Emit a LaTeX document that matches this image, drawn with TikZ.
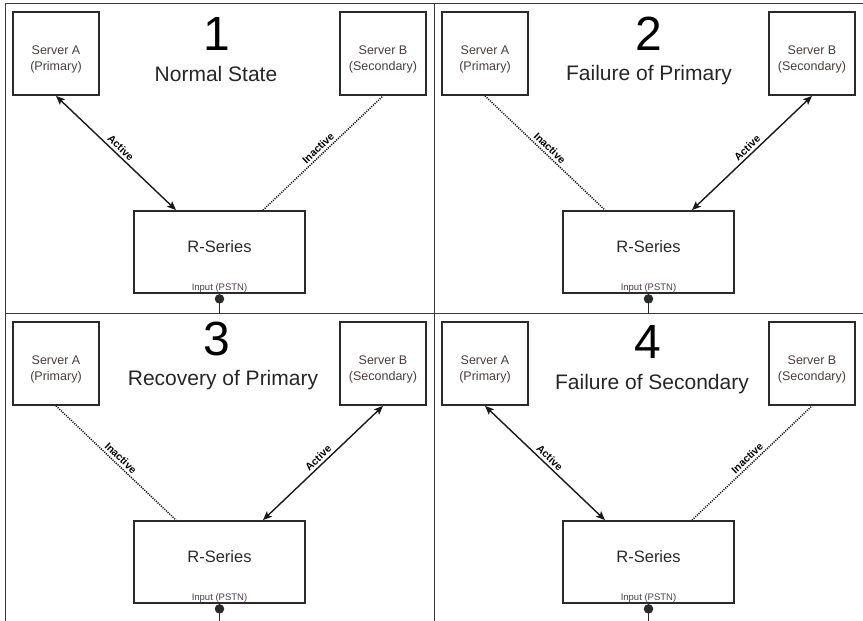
\documentclass[tikz,border=0pt]{standalone}
\usepackage{fontspec}
\setmainfont{Liberation Sans}
\usepackage{tikz}
\usepackage{xcolor}
\usetikzlibrary{arrows.meta}
\definecolor{boxcol}{HTML}{2A2A2A}
\definecolor{servercol}{HTML}{4A3C3C}
\definecolor{inputcol}{HTML}{4E3A55}
\definecolor{framecol}{HTML}{3A3A3A}

\begin{document}
\begin{tikzpicture}[x=1pt,y=-1pt]
\tikzstyle{every node}+=[inner sep=0pt]
\tikzstyle{server}=[draw=boxcol, line width=1.8pt, minimum width=86pt, minimum height=83pt]
\tikzstyle{rseries}=[draw=boxcol, line width=1.8pt, minimum width=171pt, minimum height=82pt]
\tikzstyle{servertext}=[text=servercol, align=center, font=\fontsize{12.5}{15.5}\selectfont, yshift=-6pt]
\tikzstyle{rtext}=[text=boxcol, font=\fontsize{16.5}{18}\selectfont, yshift=5pt]
\tikzstyle{inputtext}=[text=inputcol, font=\fontsize{9.5}{11}\selectfont, anchor=base, yshift=3pt]
\tikzstyle{numtext}=[text=black, font=\fontsize{48}{50}\selectfont, anchor=base]
\tikzstyle{titletext}=[text=black!85, font=\fontsize{21}{24}\selectfont, anchor=base]
\tikzstyle{activelink}=[{Stealth[length=9pt,width=7.5pt,inset=2pt]}-{Stealth[length=9pt,width=7.5pt,inset=2pt]}, line width=1.4pt, draw=black!90]
\tikzstyle{inactivelink}=[line width=1.5pt, dash pattern=on 1.1pt off 1.2pt, draw=black!90]
\tikzstyle{linklabel}=[font=\fontsize{10.5}{12}\selectfont\bfseries, sloped, above=2.5pt, pos=0.5]
\tikzstyle{feed}=[line width=1.4pt, draw=boxcol, fill=boxcol]
\tikzstyle{frame}=[line width=1pt, draw=framecol]
\useasboundingbox (0,0) rectangle (863,621);
\draw[frame] (5,3) -- (863,3);
\draw[frame] (5,3) -- (5,621);
\draw[frame] (434,3) -- (434,621);
\draw[frame] (5,313) -- (863,313);

\node[server, label={[servertext]center:Server A\\(Primary)}] (A1) at (56,53.5) {};
\node[server, label={[servertext]center:Server B\\(Secondary)}] (B1) at (383,53.5) {};
\node[rseries, label={[rtext]center:R-Series}, label={[inputtext]south:Input (PSTN)}] (R1) at (219.5,252) {};
\node[numtext] (n1) at (217,50) {1};
\node[titletext] (t1) at (216,81) {Normal State};
\draw[activelink] (A1.south) -- node[linklabel] {Active} ([xshift=-43.5pt]R1.north);
\draw[inactivelink] ([xshift=43.5pt]R1.north) -- node[linklabel] {Inactive} (B1.south);
\draw[feed] (R1.south) -- ++(0,20);
\fill[feed] ([yshift=-5pt]R1.south) circle (4pt);

\node[server, label={[servertext]center:Server A\\(Primary)}] (A2) at (485,53.5) {};
\node[server, label={[servertext]center:Server B\\(Secondary)}] (B2) at (812,53.5) {};
\node[rseries, label={[rtext]center:R-Series}, label={[inputtext]south:Input (PSTN)}] (R2) at (648.5,252) {};
\node[numtext] (n2) at (649,50) {2};
\node[titletext] (t2) at (649,80) {Failure of Primary};
\draw[inactivelink] (A2.south) -- node[linklabel] {Inactive} ([xshift=-43.5pt]R2.north);
\draw[activelink] ([xshift=43.5pt]R2.north) -- node[linklabel] {Active} (B2.south);
\draw[feed] (R2.south) -- ++(0,20);
\fill[feed] ([yshift=-5pt]R2.south) circle (4pt);

\node[server, label={[servertext]center:Server A\\(Primary)}] (A3) at (56,363.5) {};
\node[server, label={[servertext]center:Server B\\(Secondary)}] (B3) at (383,363.5) {};
\node[rseries, label={[rtext]center:R-Series}, label={[inputtext]south:Input (PSTN)}] (R3) at (219.5,562) {};
\node[numtext] (n3) at (217,355) {3};
\node[titletext] (t3) at (223,385) {Recovery of Primary};
\draw[inactivelink] (A3.south) -- node[linklabel] {Inactive} ([xshift=-43.5pt]R3.north);
\draw[activelink] ([xshift=43.5pt]R3.north) -- node[linklabel] {Active} (B3.south);
\draw[feed] (R3.south) -- ++(0,20);
\fill[feed] ([yshift=-5pt]R3.south) circle (4pt);

\node[server, label={[servertext]center:Server A\\(Primary)}] (A4) at (485,363.5) {};
\node[server, label={[servertext]center:Server B\\(Secondary)}] (B4) at (812,363.5) {};
\node[rseries, label={[rtext]center:R-Series}, label={[inputtext]south:Input (PSTN)}] (R4) at (648.5,562) {};
\node[numtext] (n4) at (648,358) {4};
\node[titletext] (t4) at (652,389) {Failure of Secondary};
\draw[activelink] (A4.south) -- node[linklabel] {Active} ([xshift=-43.5pt]R4.north);
\draw[inactivelink] ([xshift=43.5pt]R4.north) -- node[linklabel] {Inactive} (B4.south);
\draw[feed] (R4.south) -- ++(0,20);
\fill[feed] ([yshift=-5pt]R4.south) circle (4pt);
\end{tikzpicture}
\end{document}
